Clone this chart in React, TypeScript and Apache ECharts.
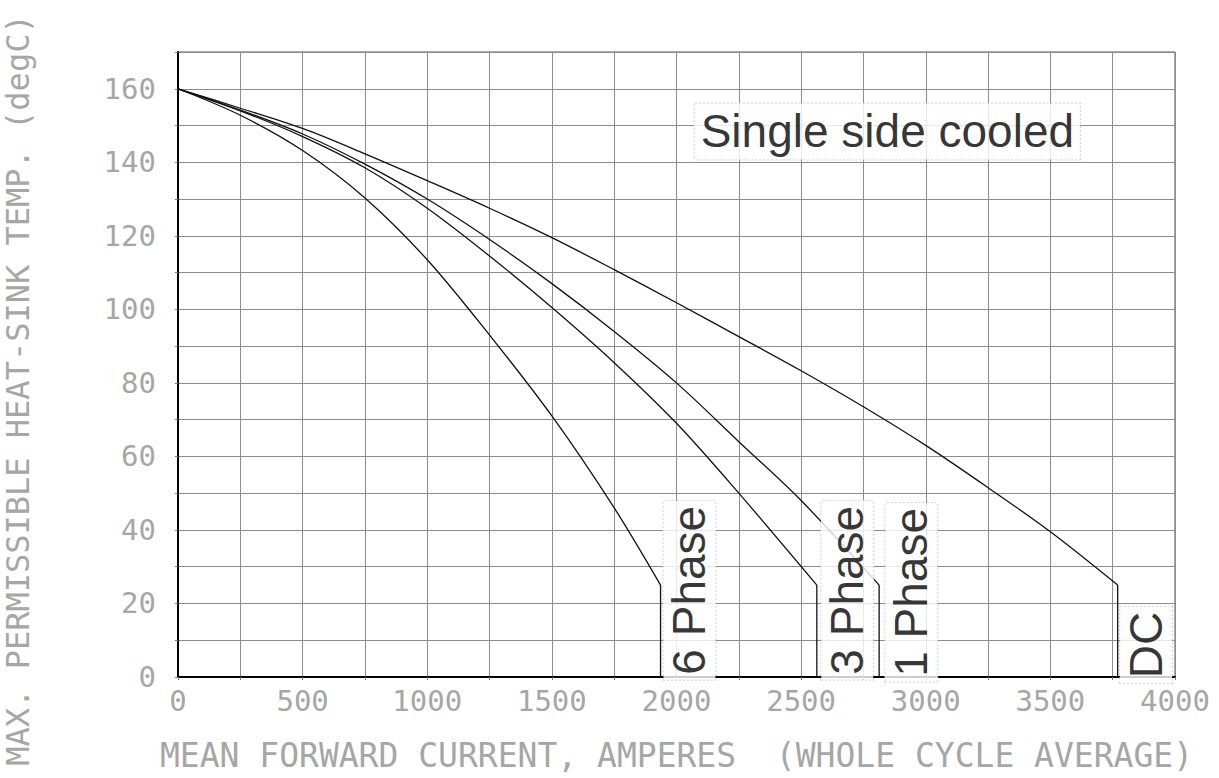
import React, { useEffect, useRef } from 'react';
import * as echarts from 'echarts';

// Tick labels shown on the axes
const xTickLabels = [0, 500, 1000, 1500, 2000, 2500, 3000, 3500, 4000];
const yTickLabels = [0, 20, 40, 60, 80, 100, 120, 140, 160];

// Curves: [mean forward current (A), max heat-sink temperature (degC)]
const sixPhase = [
  [0, 160], [250, 152.8], [500, 143.2], [750, 130.3], [1000, 113.5], [1250, 93],
  [1500, 71], [1750, 46], [1936, 25],
];
const threePhase = [
  [0, 160], [250, 154], [500, 147], [750, 138.5], [1000, 127.5], [1250, 114.5],
  [1500, 100.5], [1750, 85.5], [2000, 69], [2250, 50], [2563, 25],
];
const onePhase = [
  [0, 160], [250, 154.2], [500, 147.7], [750, 139.5], [1000, 130], [1250, 119],
  [1500, 107], [1750, 94], [2000, 80], [2250, 64], [2500, 48], [2813, 25],
];
const dcCurve = [
  [0, 160], [250, 154.7], [500, 149.2], [750, 142.3], [1000, 135], [1250, 127.5],
  [1500, 119.5], [1750, 110.8], [2000, 101.8], [2250, 92.6], [2500, 83.3],
  [2750, 73.5], [3000, 63], [3250, 51.5], [3500, 39.5], [3770, 25],
];

const curveNames = ['6 Phase', '3 Phase', '1 Phase', 'DC'];
const curves = [sixPhase, threePhase, onePhase, dcCurve];
// label anchors in data coordinates
const labelAnchors = [[2052, 23.6], [2685, 23.6], [2942, 23], [3884, 8.7]];
const titleText = 'Single side cooled';
const titleAnchor = [2846, 148.4];

const xTitle = 'MEAN FORWARD CURRENT, AMPERES  (WHOLE CYCLE AVERAGE)';
const yTitle = 'MAX. PERMISSIBLE HEAT-SINK TEMP. (degC)';

const MONO = '"DejaVu Sans Mono", monospace';
const SANS = '"Liberation Sans", Arial, sans-serif';
const TICK_GRAY = '#a6a6a6';

export default function App() {
  const ref = useRef<HTMLDivElement>(null);

  useEffect(() => {
    if (!ref.current) return;
    const chart = echarts.init(ref.current, undefined, { renderer: 'svg' });

    const curveSeries = curves.map((data, i) => ({
      type: 'line',
      name: curveNames[i],
      data,
      smooth: 0.33,
      symbol: 'none',
      lineStyle: { color: '#111', width: 1.3 },
      z: 3,
    }));
    const dropSeries = curves.map((data, i) => {
      const last = data[data.length - 1];
      return {
        type: 'line',
        name: curveNames[i] + ' drop',
        data: [[last[0], last[1]], [last[0], 0]],
        symbol: 'none',
        lineStyle: { color: '#111', width: 1.3 },
        z: 3,
      };
    });

    const labelBox = {
      show: true,
      position: 'inside',
      fontFamily: SANS,
      fontSize: 46,
      color: '#000',
      backgroundColor: '#fff',
      borderColor: '#c8c8c8',
      borderWidth: 1,
      borderType: 'dotted',
      padding: [2, 5],
      lineHeight: 48,
    };

    const labelData = [
      ...curveNames.map((n, i) => ({
        value: labelAnchors[i],
        name: n,
        label: { ...labelBox, rotate: 90, formatter: n },
      })),
      {
        value: titleAnchor,
        name: titleText,
        label: { ...labelBox, rotate: 0, formatter: titleText, padding: [4, 6] },
      },
    ];

    chart.setOption({
      animation: false,
      backgroundColor: '#fff',
      grid: {
        left: 178,
        top: 52,
        right: 44,
        bottom: 101,
        show: true,
        borderColor: '#555',
        borderWidth: 1,
      },
      xAxis: {
        type: 'value',
        min: 0,
        max: 4000,
        interval: 250,
        name: xTitle,
        nameLocation: 'middle',
        nameGap: 62,
        nameTextStyle: { fontFamily: MONO, fontSize: 33, color: TICK_GRAY },
        axisLine: { show: true, onZero: false, lineStyle: { color: '#000', width: 2 } },
        axisTick: { show: true, length: 3, lineStyle: { color: '#777' } },
        axisLabel: {
          margin: 9,
          fontFamily: MONO,
          fontSize: 29,
          color: TICK_GRAY,
          formatter: (v: number) => (xTickLabels.includes(v) ? String(v) : ''),
        },
        splitLine: { show: true, lineStyle: { color: '#8c8c8c', width: 1 } },
      },
      yAxis: {
        type: 'value',
        min: 0,
        max: 170,
        interval: 10,
        axisLine: { show: true, onZero: false, lineStyle: { color: '#000', width: 2 } },
        axisTick: { show: true, length: 3, lineStyle: { color: '#777' } },
        axisLabel: {
          margin: 22,
          fontFamily: MONO,
          fontSize: 29,
          color: TICK_GRAY,
          formatter: (v: number) => (yTickLabels.includes(v) ? String(v) : ''),
        },
        splitLine: { show: true, lineStyle: { color: '#8c8c8c', width: 1 } },
      },
      graphic: [
        {
          type: 'text',
          x: 18,
          y: 390,
          rotation: Math.PI / 2,
          style: {
            text: yTitle,
            font: `32px ${MONO}`,
            fill: TICK_GRAY,
            align: 'center',
            verticalAlign: 'middle',
          },
        },
      ],
      series: [
        ...curveSeries,
        ...dropSeries,
        {
          type: 'scatter',
          name: 'labels',
          data: labelData,
          symbolSize: 1,
          itemStyle: { color: 'rgba(0,0,0,0)' },
          z: 10,
          silent: true,
        },
      ],
    });

    return () => chart.dispose();
  }, []);

  return (
    <div
      ref={ref}
      style={{ position: 'fixed', left: 0, top: 0, width: 1219, height: 778, background: '#fff' }}
    />
  );
}
